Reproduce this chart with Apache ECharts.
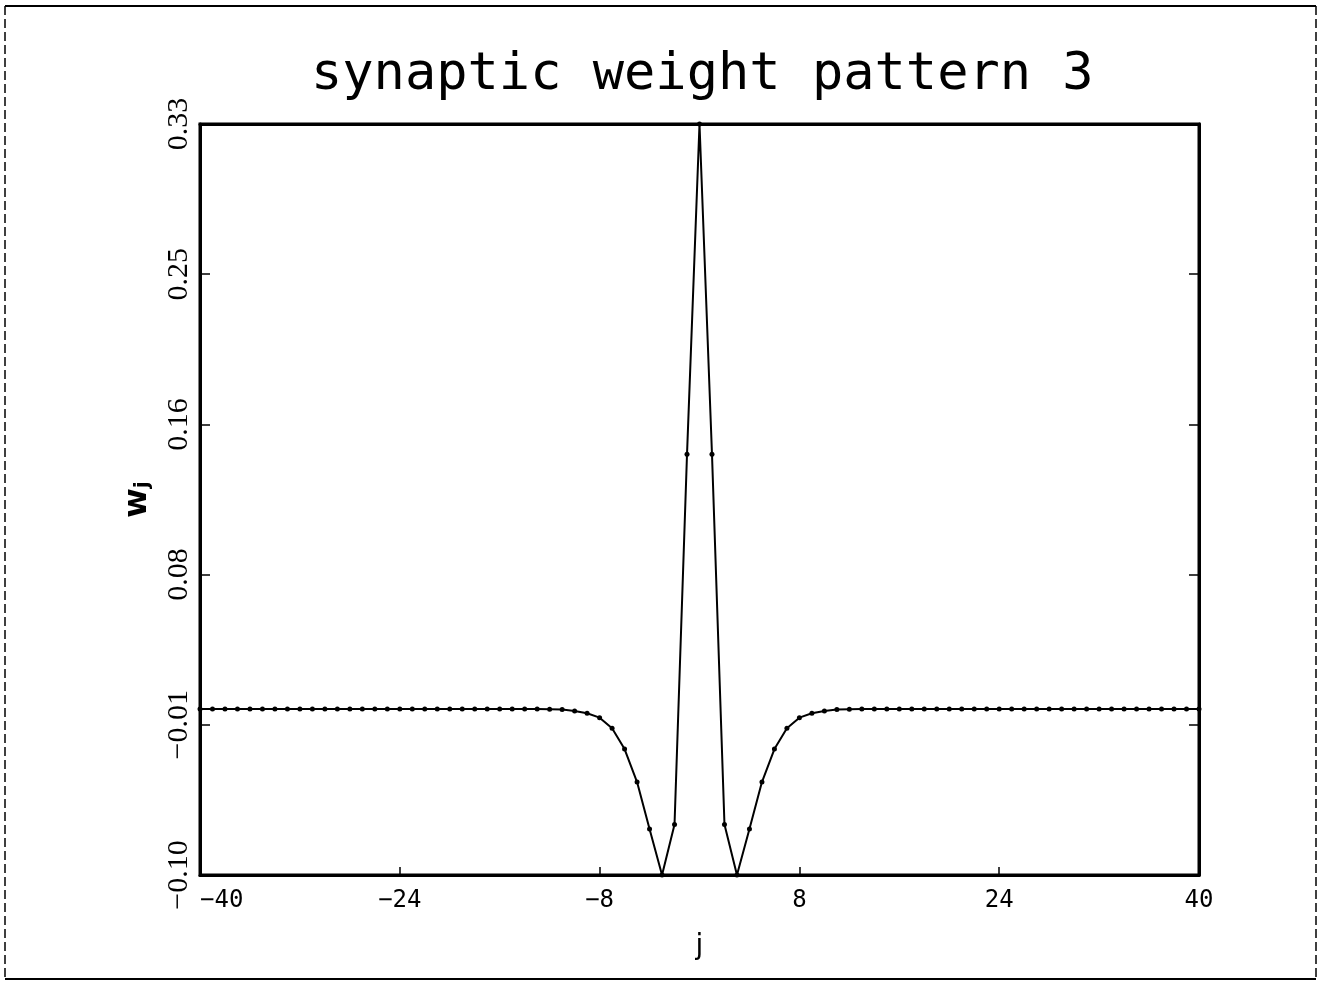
<!DOCTYPE html>
<html>
<head>
<meta charset="utf-8">
<title>synaptic weight pattern 3</title>
<script src="https://cdn.jsdelivr.net/npm/echarts@6/dist/echarts.min.js"></script>
<style>
  html, body { margin: 0; padding: 0; background: #fff; }
  #chart { width: 1320px; height: 991px; }
</style>
</head>
<body>
<div id="chart"></div>
<script>
// Neuron offsets j = -40 .. 40
const offsets = [
  -40, -39, -38, -37, -36, -35, -34, -33, -32, -31,
  -30, -29, -28, -27, -26, -25, -24, -23, -22, -21,
  -20, -19, -18, -17, -16, -15, -14, -13, -12, -11,
  -10, -9, -8, -7, -6, -5, -4, -3, -2, -1,
  0,
  1, 2, 3, 4, 5, 6, 7, 8, 9, 10,
  11, 12, 13, 14, 15, 16, 17, 18, 19, 20,
  21, 22, 23, 24, 25, 26, 27, 28, 29, 30,
  31, 32, 33, 34, 35, 36, 37, 38, 39, 40
];

// Synaptic weight w_j at each offset
const weights = [
  -0.0050, -0.0050, -0.0050, -0.0050, -0.0050, -0.0050, -0.0050, -0.0050, -0.0050, -0.0050,
  -0.0050, -0.0050, -0.0050, -0.0050, -0.0050, -0.0050, -0.0050, -0.0050, -0.0050, -0.0050,
  -0.0050, -0.0050, -0.0050, -0.0050, -0.0050, -0.0050, -0.0050, -0.0050, -0.0051, -0.0053,
  -0.0061, -0.0074, -0.0099, -0.0160, -0.0279, -0.0468, -0.0737, -0.1000, -0.0711, 0.1409,
  0.3300,
  0.1409, -0.0711, -0.1000, -0.0737, -0.0468, -0.0279, -0.0160, -0.0099, -0.0074, -0.0061,
  -0.0053, -0.0051, -0.0050, -0.0050, -0.0050, -0.0050, -0.0050, -0.0050, -0.0050, -0.0050,
  -0.0050, -0.0050, -0.0050, -0.0050, -0.0050, -0.0050, -0.0050, -0.0050, -0.0050, -0.0050,
  -0.0050, -0.0050, -0.0050, -0.0050, -0.0050, -0.0050, -0.0050, -0.0050, -0.0050, -0.0050
];

// Axis ticks and their printed labels
const xTickValues = [-40, -24, -8, 8, 24, 40];
const xTickLabels = ['\u221240', '\u221224', '\u22128', '8', '24', '40'];
const yTickValues = [-0.10, -0.014, 0.072, 0.158, 0.244, 0.33];
const yTickLabels = ['\u22120.10', '\u22120.01', '0.08', '0.16', '0.25', '0.33'];

const X_MIN = -40, X_MAX = 40;
const Y_MIN = -0.10, Y_MAX = 0.33;

const chart = echarts.init(document.getElementById('chart'), null, { renderer: 'canvas' });

const points = offsets.map((j, i) => [j, weights[i]]);

function labelFor(values, labels) {
  return function (v) {
    for (let i = 0; i < values.length; i++) {
      if (Math.abs(values[i] - v) < 1e-6) return labels[i];
    }
    return '';
  };
}

const monoFont = '"DejaVu Sans Mono", monospace';
const serifFont = '"Liberation Serif", serif';

chart.setOption({
  backgroundColor: '#ffffff',
  animation: false,
  title: {
    text: 'synaptic weight pattern 3',
    left: 306,
    top: 44,
    textStyle: {
      fontFamily: monoFont,
      fontSize: 52,
      fontWeight: 'normal',
      color: '#000'
    }
  },
  grid: {
    left: 200,
    right: 121,
    top: 124,
    bottom: 116,
    show: true,
    borderColor: '#000',
    borderWidth: 3,
    backgroundColor: 'transparent'
  },
  xAxis: [
    {
      type: 'value',
      min: X_MIN,
      max: X_MAX,
      position: 'bottom',
      name: 'j',
      nameLocation: 'middle',
      nameGap: 58,
      nameTextStyle: { fontFamily: '"DejaVu Sans", sans-serif', fontSize: 28, color: '#000' },
      axisLine: { show: true, onZero: false, lineStyle: { color: '#000', width: 3 } },
      axisTick: {
        show: true, inside: true, length: 8,
        customValues: xTickValues,
        lineStyle: { color: '#000', width: 1.5 }
      },
      axisLabel: {
        show: true,
        customValues: xTickValues,
        formatter: labelFor(xTickValues, xTickLabels),
        fontFamily: monoFont,
        fontSize: 24,
        color: '#000',
        margin: 14,
        alignMinLabel: 'left'
      },
      splitLine: { show: false }
    },
    {
      type: 'value',
      min: X_MIN,
      max: X_MAX,
      position: 'top',
      axisLine: { show: true, onZero: false, lineStyle: { color: '#000', width: 3 } },
      axisTick: { show: false },
      axisLabel: { show: false },
      splitLine: { show: false }
    }
  ],
  yAxis: [
    {
      type: 'value',
      min: Y_MIN,
      max: Y_MAX,
      position: 'left',
      name: '{w|w}{j|j}',
      nameLocation: 'middle',
      nameRotate: 90,
      nameGap: 46,
      nameTextStyle: {
        rich: {
          w: { fontFamily: '"DejaVu Sans", sans-serif', fontSize: 32, fontWeight: 'bold', color: '#000' },
          j: { fontFamily: '"DejaVu Sans", sans-serif', fontSize: 20, fontWeight: 'bold', color: '#000', padding: [10, 0, 0, 0] }
        }
      },
      axisLine: { show: true, onZero: false, lineStyle: { color: '#000', width: 3 } },
      axisTick: {
        show: true, inside: true, length: 10,
        customValues: yTickValues,
        lineStyle: { color: '#000', width: 1.5 }
      },
      axisLabel: {
        show: true,
        rotate: 90,
        customValues: yTickValues,
        formatter: labelFor(yTickValues, yTickLabels),
        fontFamily: serifFont,
        fontSize: 30,
        color: '#000',
        margin: 6
      },
      splitLine: { show: false }
    },
    {
      type: 'value',
      min: Y_MIN,
      max: Y_MAX,
      position: 'right',
      axisLine: { show: true, onZero: false, lineStyle: { color: '#000', width: 3 } },
      axisTick: {
        show: true, inside: true, length: 10,
        customValues: yTickValues,
        lineStyle: { color: '#000', width: 1.5 }
      },
      axisLabel: { show: false },
      splitLine: { show: false }
    }
  ],
  series: [
    {
      type: 'line',
      xAxisIndex: 0,
      yAxisIndex: 0,
      data: points,
      clip: true,
      smooth: false,
      symbol: 'circle',
      symbolSize: 5,
      showSymbol: true,
      itemStyle: { color: '#000' },
      lineStyle: { color: '#000', width: 2 },
      emphasis: { disabled: true }
    }
  ],
  graphic: [
    // page frame
    { type: 'line', shape: { x1: 5, y1: 6, x2: 1316, y2: 6 }, style: { stroke: '#000', lineWidth: 2 } },
    { type: 'line', shape: { x1: 5, y1: 979, x2: 1316, y2: 979 }, style: { stroke: '#000', lineWidth: 2 } },
    { type: 'line', shape: { x1: 5, y1: 6, x2: 5, y2: 979 }, style: { stroke: '#000', lineWidth: 1.5, lineDash: [9, 4] } },
    { type: 'line', shape: { x1: 1316, y1: 6, x2: 1316, y2: 979 }, style: { stroke: '#000', lineWidth: 1.5, lineDash: [9, 4] } }
  ]
});
</script>
</body>
</html>
